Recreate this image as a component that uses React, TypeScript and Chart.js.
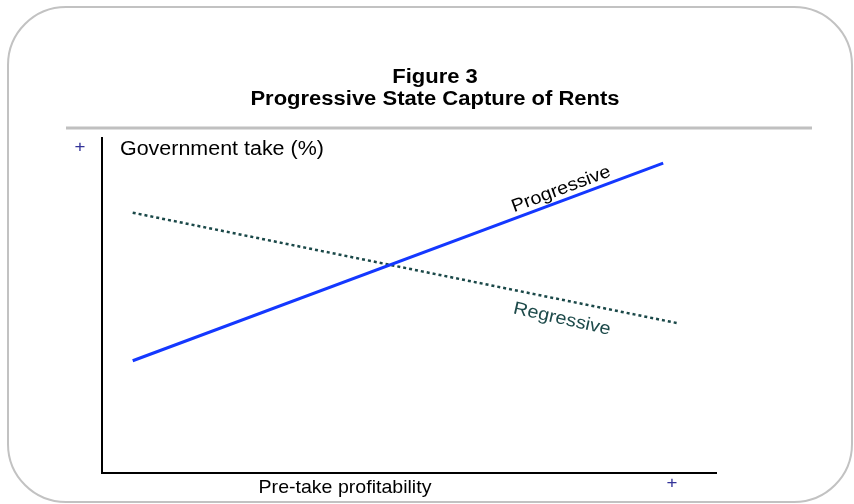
import React, { useEffect, useRef } from "react";
import { Chart, registerables } from "chart.js";

Chart.register(...registerables);

// ---- Data ----
const titleLines = ["Figure 3", "Progressive State Capture of Rents"];
const yAxisLabel = "Government take (%)";
const xAxisLabel = "Pre-take profitability";
const axisMarker = "+";
const seriesNames = ["Progressive", "Regressive"];
const xRange = [0, 100];
const yRange = [0, 100];
const progressiveX = [5.0, 91.4];
const progressiveY = [33.5, 92.5];
const regressiveX = [5.0, 93.8];
const regressiveY = [77.7, 44.7];

const FONT = "'Liberation Sans', Arial, Helvetica, sans-serif";
const STRETCH = 1.1;

function drawText(
  ctx: CanvasRenderingContext2D,
  text: string,
  x: number,
  y: number,
  font: string,
  color: string,
  align: CanvasTextAlign,
  baseline: CanvasTextBaseline = "alphabetic",
  angle = 0
) {
  ctx.save();
  ctx.translate(x, y);
  if (angle) ctx.rotate(angle);
  ctx.scale(STRETCH, 1);
  ctx.font = font;
  ctx.fillStyle = color;
  ctx.textAlign = align;
  ctx.textBaseline = baseline;
  ctx.fillText(text, 0, 0);
  ctx.restore();
}

const diagramPlugin = {
  id: "diagramDecor",
  beforeDraw(chart: any) {
    const ctx: CanvasRenderingContext2D = chart.ctx;
    const { left, top, bottom } = chart.chartArea;
    ctx.save();
    ctx.fillStyle = "#ffffff";
    ctx.fillRect(0, 0, chart.width, chart.height);
    // rounded frame
    ctx.strokeStyle = "#c2c2c2";
    ctx.lineWidth = 2;
    ctx.beginPath();
    (ctx as any).roundRect(8, 7, 844, 495, 58);
    ctx.stroke();
    // title
    drawText(ctx, titleLines[0], 435, 83, `bold 20px ${FONT}`, "#000", "center");
    drawText(ctx, titleLines[1], 435, 105, `bold 20px ${FONT}`, "#000", "center");
    // grey rule
    ctx.strokeStyle = "#c0c0c0";
    ctx.lineWidth = 3;
    ctx.beginPath();
    ctx.moveTo(66, 128);
    ctx.lineTo(812, 128);
    ctx.stroke();
    // axis labels and markers
    drawText(ctx, axisMarker, left - 22, top + 9, `17px ${FONT}`, "#333399", "center", "middle");
    drawText(ctx, yAxisLabel, left + 18, top + 17, `19.5px ${FONT}`, "#000", "left");
    drawText(ctx, xAxisLabel, 345, bottom + 20, `17.8px ${FONT}`, "#000", "center");
    drawText(ctx, axisMarker, 672, bottom + 10, `17px ${FONT}`, "#333399", "center", "middle");
    ctx.restore();
  },
  afterDatasetsDraw(chart: any) {
    const ctx: CanvasRenderingContext2D = chart.ctx;
    const xs = chart.scales.x;
    const ys = chart.scales.y;
    const seg = (xArr: number[], yArr: number[]) => {
      const x0 = xs.getPixelForValue(xArr[0]);
      const y0 = ys.getPixelForValue(yArr[0]);
      const x1 = xs.getPixelForValue(xArr[1]);
      const y1 = ys.getPixelForValue(yArr[1]);
      return { x0, y0, x1, y1, a: Math.atan2(y1 - y0, x1 - x0) };
    };
    const p = seg(progressiveX, progressiveY);
    const tp = 0.815;
    const px = p.x0 + (p.x1 - p.x0) * tp;
    const py = p.y0 + (p.y1 - p.y0) * tp;
    ctx.save();
    ctx.translate(px, py);
    ctx.rotate(p.a);
    drawText(ctx, seriesNames[0], 0, -6, `18px ${FONT}`, "#000", "center");
    ctx.restore();

    const r = seg(regressiveX, regressiveY);
    const tr = 0.795;
    const rx = r.x0 + (r.x1 - r.x0) * tr;
    const ry = r.y0 + (r.y1 - r.y0) * tr;
    ctx.save();
    ctx.translate(rx, ry);
    ctx.rotate(r.a + 0.02);
    drawText(ctx, seriesNames[1], 0, 24, `18px ${FONT}`, "#1d4a4a", "center");
    ctx.restore();
  },
};

export default function App() {
  const ref = useRef<HTMLCanvasElement | null>(null);
  useEffect(() => {
    if (!ref.current) return;
    const chart = new Chart(ref.current, {
      type: "line",
      data: {
        datasets: [
          {
            label: seriesNames[0],
            data: progressiveX.map((x, i) => ({ x, y: progressiveY[i] })),
            borderColor: "#1438ff",
            borderWidth: 3,
            pointRadius: 0,
            tension: 0,
            fill: false,
          },
          {
            label: seriesNames[1],
            data: regressiveX.map((x, i) => ({ x, y: regressiveY[i] })),
            borderColor: "#1a4848",
            borderWidth: 2.5,
            borderDash: [3, 3],
            borderCapStyle: "butt",
            pointRadius: 0,
            tension: 0,
            fill: false,
          },
        ],
      },
      options: {
        animation: false,
        responsive: false,
        maintainAspectRatio: false,
        devicePixelRatio: 1,
        layout: { padding: { left: 102, right: 138, top: 138, bottom: 31 } },
        plugins: {
          legend: { display: false },
          tooltip: { enabled: false },
          title: { display: false },
        },
        scales: {
          x: {
            type: "linear",
            min: xRange[0],
            max: xRange[1],
            grid: { display: false, drawTicks: false },
            ticks: { display: false },
            border: { display: true, color: "#000", width: 2 },
          },
          y: {
            type: "linear",
            min: yRange[0],
            max: yRange[1],
            grid: { display: false, drawTicks: false },
            ticks: { display: false },
            border: { display: true, color: "#000", width: 2 },
          },
        },
      },
      plugins: [diagramPlugin],
    } as any);
    return () => chart.destroy();
  }, []);
  return (
    <div style={{ position: "absolute", left: 0, top: 0, width: 854, height: 504 }}>
      <canvas ref={ref} width={854} height={504} style={{ display: "block" }} />
    </div>
  );
}
